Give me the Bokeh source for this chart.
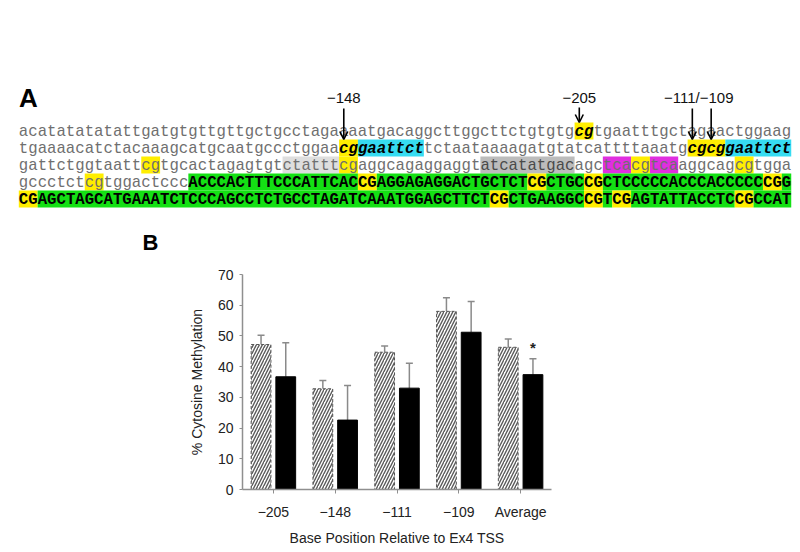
from bokeh.plotting import figure
from bokeh.models import Range1d, FactorRange, ColumnDataSource, FixedTicker, Arrow, OpenHead
from bokeh.layouts import column
from bokeh.transform import dodge
from bokeh.core.properties import value
from bokeh.embed import file_html
from bokeh.resources import INLINE

# ---------------- Panel A data: sequence rows as (text, style) runs ----------------
row1 = [("acatatatatattgatgtgttgttgctgcctagaaaatgacaggcttggcttctgtgtg", "plain"),
        ("cg", "cpg_bi"),
        ("tgaatttgctagaactggaag", "plain")]
row2 = [("tgaaaacatctacaaagcatgcaatgccctggaa", "plain"),
        ("cg", "cpg_bi"), ("gaattct", "cyan_bi"),
        ("tctaataaaagatgtatcattttaaatg", "plain"),
        ("cgcg", "cpg_bi"), ("gaattct", "cyan_bi")]
row3 = [("gattctggtaatt", "plain"), ("cg", "cpg"), ("tgcactagagtgt", "plain"),
        ("ctattt", "grey1"), ("cg", "cpg"), ("aggcagaggaggt", "plain"),
        ("atcatatgac", "grey2"), ("agc", "plain"), ("tca", "mag"), ("cg", "cpg"),
        ("tca", "mag"), ("aggcag", "plain"), ("cg", "cpg"), ("tgga", "plain")]
row4 = [("gccctct", "plain"), ("cg", "cpg"), ("tggactccc", "plain"),
        ("ACCCACTTTCCCATTCAC", "green"), ("CG", "cpgU"),
        ("AGGAGAGGACTGCTCT", "green"), ("CG", "cpgU"), ("CTGC", "green"),
        ("CG", "cpgU"), ("CTCCCCCACCCACCCCC", "green"), ("CG", "cpgU"), ("G", "green")]
row5 = [("CG", "cpgU"), ("AGCTAGCATGAAATCTCCCAGCCTCTGCCTAGATCAAATGGAGCTTCT", "green"),
        ("CG", "cpgU"), ("CTGAAGGC", "green"), ("CG", "cpgU"), ("T", "green"),
        ("CG", "cpgU"), ("AGTATTACCTC", "green"), ("CG", "cpgU"), ("CCAT", "green")]
rows = [row1, row2, row3, row4, row5]

# marked sites: label, row index, character index
site_labels = ["−148", "−205", "−111", "−109"]
site_rows = [1, 0, 1, 1]
site_chars = [34, 59, 71, 73]

# ---------------- Panel B data ----------------
cats = ["−205", "−148", "−111", "−109", "Average"]
hatched_vals = [47.2, 32.8, 44.7, 58.0, 46.3]
hatched_err = [3.0, 2.7, 2.0, 4.4, 2.7]
black_vals = [36.7, 22.6, 33.0, 51.2, 37.4]
black_err = [11.1, 11.3, 8.1, 10.0, 5.2]
y_ticks = [0, 10, 20, 30, 40, 50, 60, 70]

# ---------------- styles ----------------
YEL = "#ffee00"
STY = {
    "plain":   (None,      "#6f6f6f", "normal"),
    "cpg_bi":  (YEL,       "#000000", "bold italic"),
    "cyan_bi": ("#36dcf2", "#000000", "bold italic"),
    "cpg":     (YEL,       "#6f6f6f", "normal"),
    "grey1":   ("#dedede", "#6f6f6f", "normal"),
    "grey2":   ("#bcbcbc", "#4a4a4a", "normal"),
    "mag":     ("#e02ee0", "#6f6f6f", "normal"),
    "green":   ("#14e014", "#000000", "bold"),
    "cpgU":    (YEL,       "#000000", "bold"),
}

W = 796
X0 = 18.3
CW = 9.42
FS = "%.2fpx" % (CW / 0.6)
ROW_Y0 = 130.5
ROW_DY = 17.0
BOX_H = 17.0
HA = 264

pa = figure(width=W, height=HA, x_range=Range1d(0, W), y_range=Range1d(HA, 0),
            output_backend="svg", toolbar_location=None,
            x_axis_location=None, y_axis_location=None, min_border=0)
pa.grid.visible = False
pa.outline_line_color = None
pa.frame_align = False

box = {"l": [], "r": [], "t": [], "b": [], "c": []}
texts = {}
for ri, row in enumerate(rows):
    yc = ROW_Y0 + ri * ROW_DY
    idx = 0
    for txt, st in row:
        bg, col, fst = STY[st]
        if bg is not None:
            box["l"].append(X0 + idx * CW)
            box["r"].append(X0 + (idx + len(txt)) * CW)
            box["t"].append(yc - BOX_H / 2)
            box["b"].append(yc + BOX_H / 2)
            box["c"].append(bg)
        d = texts.setdefault(fst, {"x": [], "y": [], "t": [], "c": []})
        d["x"].append(X0 + idx * CW)
        d["y"].append(yc + 1)
        d["t"].append(txt)
        d["c"].append(col)
        idx += len(txt)

pa.quad(left="l", right="r", top="t", bottom="b", fill_color="c", line_color=None,
        source=ColumnDataSource(box))
for fst, d in texts.items():
    pa.text(x="x", y="y", text="t", text_color="c", source=ColumnDataSource(d),
            text_font=value("Liberation Mono"), text_font_size=value(FS),
            text_font_style=fst, text_baseline="middle", text_align="left")

# arrows
for lab, r, ci in zip(site_labels, site_rows, site_chars):
    xs = X0 + (ci + 0.5) * CW
    y_end = ROW_Y0 + r * ROW_DY - BOX_H / 2
    y_start = 108 if r == 1 else 107
    pa.add_layout(Arrow(end=OpenHead(size=8, line_width=1.6, line_color="black"),
                        x_start=xs, y_start=y_start, x_end=xs, y_end=y_end,
                        line_width=1.6, line_color="black"))

lab_x = [X0 + (site_chars[0] + 0.5) * CW, X0 + (site_chars[1] + 0.5) * CW,
         (X0 + (site_chars[2] + 0.5) * CW + X0 + (site_chars[3] + 0.5) * CW) / 2 - 3]
lab_t = [site_labels[0], site_labels[1], site_labels[2] + "/" + site_labels[3]]
pa.text(x=lab_x, y=[97, 97, 97], text=lab_t, text_font=value("Liberation Sans"),
        text_font_size=value("15px"), text_color="#111111",
        text_align="center", text_baseline="middle")

pa.text(x=[28], y=[97], text=["A"], text_font=value("Liberation Sans"),
        text_font_size=value("26px"), text_font_style="bold", text_color="black",
        text_align="center", text_baseline="middle")
pa.text(x=[150], y=[242], text=["B"], text_font=value("Liberation Sans"),
        text_font_size=value("22px"), text_font_style="bold", text_color="black",
        text_align="center", text_baseline="middle")

# ---------------- Panel B ----------------
src = ColumnDataSource(dict(
    cat=cats, h=hatched_vals, h_hi=[v + e for v, e in zip(hatched_vals, hatched_err)],
    k=black_vals, k_hi=[v + e for v, e in zip(black_vals, black_err)]))

pb = figure(width=W, height=287, x_range=FactorRange(factors=cats, range_padding=0),
            y_range=Range1d(0, 70), output_backend="svg", toolbar_location=None,
            min_border_left=242, min_border_right=W - 551, min_border_top=10,
            min_border_bottom=62)
pb.grid.visible = False
pb.outline_line_color = None
pb.frame_align = False

hx = dodge("cat", -0.2, range=pb.x_range)
kx = dodge("cat", 0.2, range=pb.x_range)

pb.segment(x0=hx, y0="h", x1=hx, y1="h_hi", line_color="#8a8a8a", line_width=1.5, source=src)
pb.segment(x0=kx, y0="k", x1=kx, y1="k_hi", line_color="#8a8a8a", line_width=1.5, source=src)
pb.scatter(x=hx, y="h_hi", marker="dash", size=7, line_color="#8a8a8a", line_width=1.5, source=src)
pb.scatter(x=kx, y="k_hi", marker="dash", size=7, line_color="#8a8a8a", line_width=1.5, source=src)

pb.vbar(x=hx, top="h", bottom=0, width=0.32, fill_color="white",
        hatch_pattern="/", hatch_color="#5a5a5a", hatch_scale=6, hatch_weight=1.4,
        line_color="#555555", line_dash="3 2", line_width=1, source=src)
pb.vbar(x=kx, top="k", bottom=0, width=0.32, fill_color="black",
        line_color="black", source=src)

star_src = ColumnDataSource(dict(cat=[cats[-1]], y=[black_vals[-1] + black_err[-1] + 3.6]))
pb.text(x=kx, y="y", text=value("*"), source=star_src, text_font=value("Liberation Sans"),
        text_font_size=value("15px"), text_font_style="bold", text_color="#222222",
        text_align="center", text_baseline="middle")

for ax in (pb.xaxis[0], pb.yaxis[0]):
    ax.axis_line_color = "#8f8f8f"
    ax.axis_line_width = 1.5
    ax.major_tick_line_color = "#8f8f8f"
    ax.minor_tick_line_color = None
    ax.major_tick_in = 0
    ax.major_label_text_font = "Liberation Sans"
    ax.major_label_text_font_size = "14px"
    ax.major_label_text_color = "#222222"
    ax.axis_label_text_font = "Liberation Sans"
    ax.axis_label_text_font_size = "14px"
    ax.axis_label_text_font_style = "normal"
    ax.axis_label_text_color = "#222222"

pb.xaxis.major_tick_out = 4
pb.xaxis.major_label_standoff = 10
pb.xaxis.axis_label = "Base Position Relative to Ex4 TSS"
pb.xaxis.axis_label_standoff = 7
pb.yaxis.ticker = FixedTicker(ticks=y_ticks)
pb.yaxis.major_tick_out = 3
pb.yaxis.major_label_standoff = 6
pb.yaxis.axis_label = "% Cytosine Methylation"
pb.yaxis.axis_label_standoff = 10

layout = column(pa, pb, spacing=0)
open("out.html", "w").write(file_html(layout, INLINE))
